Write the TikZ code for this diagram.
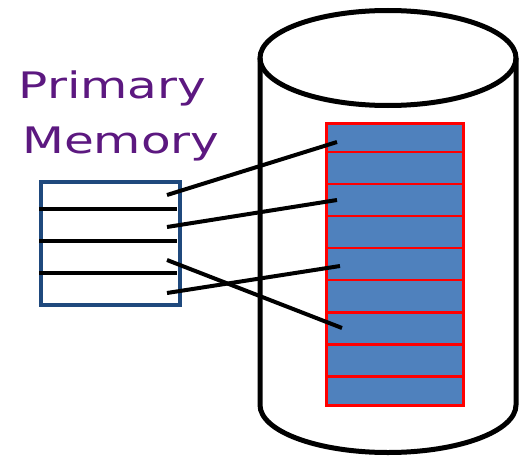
\documentclass[tikz,border=0pt]{standalone}
\usepackage{fontspec}
\newfontfamily\labelfont[FakeStretch=1.33]{DejaVu Sans}
\usetikzlibrary{calc}
\definecolor{txtpurple}{RGB}{92,24,128}
\definecolor{boxblue}{RGB}{31,73,125}
\definecolor{blkfill}{RGB}{79,129,189}
\tikzset{
  cyl/.style={line width=5pt, draw=black},
  membox/.style={line width=4pt, draw=boxblue},
  sep/.style={line width=4pt, draw=black},
  blk/.style={draw=red, line width=2.5pt, fill=blkfill},
  link/.style={line width=4pt, draw=black},
  lbl/.style={inner sep=0pt, anchor=base west, text=txtpurple, font=\labelfont\fontsize{36.5}{40}\selectfont},
  ttl/.style={inner sep=0pt, anchor=base west, text=txtpurple, font=\labelfont\fontsize{36.7}{44}\selectfont},
}
\begin{document}
\begin{tikzpicture}[x=1pt,y=1pt]
\useasboundingbox (0,0) rectangle (519,459);
\clip (0,0) rectangle (519,459);
% title (mostly cut off at the top)
\node[ttl] (title) at (125.5,466) {Mapping Blocks (};
% cylinder
\draw[cyl] (260,401) -- (260,54) arc[start angle=180, end angle=360, x radius=128, y radius=47.5] -- (516,401);
\draw[cyl] (388,401) ellipse[x radius=128, y radius=47.5];
% disk blocks
\foreach \i/\t/\b in {1/337/308.3, 2/308.3/276.3, 3/276.3/244.5, 4/244.5/212.3, 5/212.3/180.5, 6/180.5/148, 7/148/116, 8/116/84, 9/84/55}{
  \node[blk, anchor=north west, minimum width=137pt, minimum height={(\t-\b)*1pt}, inner sep=0pt] (d\i) at (325,\t) {};
}
% primary memory
\node[lbl] (lp) at (18.6,360.7) {Primary};
\node[lbl] (lm) at (22,306) {Memory};
\node[membox, anchor=north west, minimum width=139pt, minimum height=123pt, inner sep=0pt] (mem) at (39,279) {};
\coordinate (s1l) at (39,250); \coordinate (s1r) at (177,250);
\coordinate (s2l) at (39,218); \coordinate (s2r) at (177,218);
\coordinate (s3l) at (39,186); \coordinate (s3r) at (177,186);
\draw[sep] (s1l) -- (s1r);
\draw[sep] (s2l) -- (s2r);
\draw[sep] (s3l) -- (s3r);
% links
\coordinate (a1) at (167,264); \coordinate (b1) at (337,317);
\coordinate (a2) at (167,232); \coordinate (b2) at (337,259);
\coordinate (a3) at (167,199); \coordinate (b3) at (342,131);
\coordinate (a4) at (167,166); \coordinate (b4) at (340,193);
\draw[link] (a1) -- (b1);
\draw[link] (a2) -- (b2);
\draw[link] (a3) -- (b3);
\draw[link] (a4) -- (b4);
\end{tikzpicture}
\end{document}
